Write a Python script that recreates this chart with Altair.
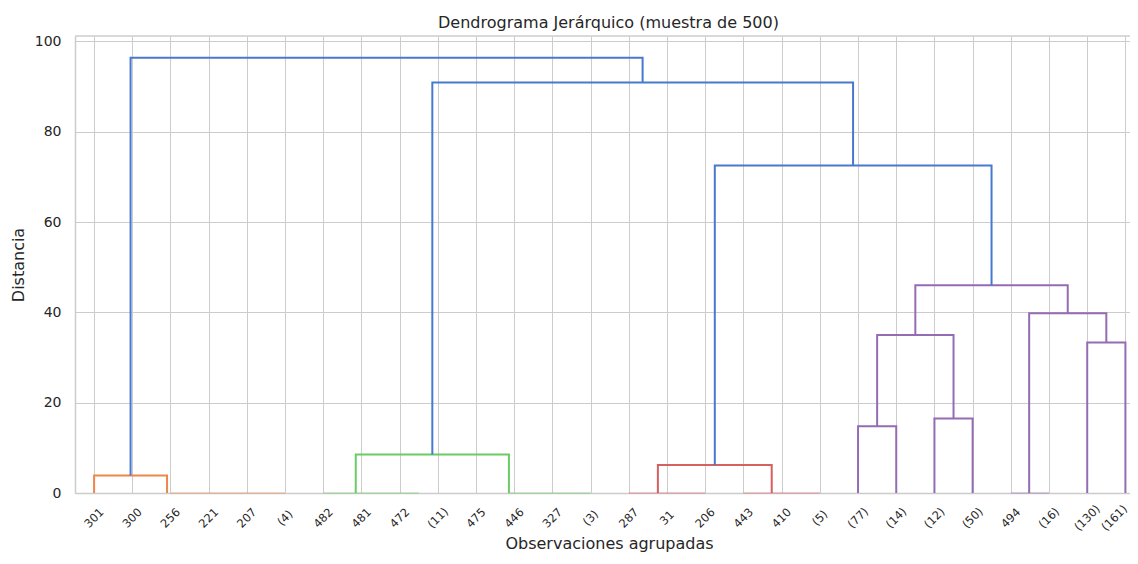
import json
import altair as alt
import pandas as pd

# ---- leaves (scipy dendrogram convention: leaf i sits at 5 + 10*i) ----
leaf_labels = ["301", "300", "256", "221", "207", "(4)", "482", "481", "472", "(11)",
               "475", "446", "327", "(3)", "287", "31", "206", "443", "410", "(5)",
               "(77)", "(14)", "(12)", "(50)", "494", "(16)", "(130)", "(161)"]
leaf_pos = [5, 15, 25, 35, 45, 55, 65, 75, 85, 95, 105, 115, 125, 135, 145,
            155, 165, 175, 185, 195, 205, 215, 225, 235, 245, 255, 265, 275]

# ---- links (left x, right x, left child height, right child height, merge height) ----
link_x_left = [5, 73.5, 152.6, 205, 225, 210, 265, 249.8, 220, 167.5, 93.55, 14.55]
link_x_right = [24.1, 113.6, 182.4, 215, 235, 230, 275, 270, 259.9, 239.95, 203.7, 148.6]
link_y_left = [0, 0, 0, 0, 0, 14.8, 0, 0, 35.0, 6.2, 8.5, 3.9]
link_y_right = [0, 0, 0, 0, 0, 16.5, 0, 33.3, 39.8, 46.0, 72.5, 90.9]
link_height = [3.9, 8.5, 6.2, 14.8, 16.5, 35.0, 33.3, 39.8, 46.0, 72.5, 90.9, 96.4]
link_cluster = ["C1", "C2", "C3", "C4", "C4", "C4", "C4", "C4", "C4", "C0", "C0", "C0"]

# ---- merges at (almost) zero distance, drawn along the baseline ----
zero_x1 = [25, 65, 113.6, 145, 175, 245]
zero_x2 = [55, 90, 135, 165, 195, 255]
zero_y = [0, 0, 0, 0, 0, 0]
zero_cluster = ["C1", "C2", "C2", "C3", "C3", "C4"]

cluster_ids = ["C0", "C1", "C2", "C3", "C4"]
cluster_colors = ["#4878d0", "#ee854a", "#6acc64", "#d65f5f", "#956cb4"]

rows = []
for i in range(len(link_height)):
    pts = [(link_x_left[i], link_y_left[i]),
           (link_x_left[i], link_height[i]),
           (link_x_right[i], link_height[i]),
           (link_x_right[i], link_y_right[i])]
    for k, (xx, yy) in enumerate(pts):
        rows.append({"link": i, "step": k, "x": xx, "y": yy, "cluster": link_cluster[i]})
links_df = pd.DataFrame(rows)

zero_df = pd.DataFrame({"x": zero_x1, "x2": zero_x2, "y": zero_y, "cluster": zero_cluster})

FONT = "DejaVu Sans"
TXT = "#262626"
GRID = "#cccccc"

xscale = alt.Scale(domain=[0, 276.2], nice=False, zero=False)
yscale = alt.Scale(domain=[0, 101.2], nice=False)
cscale = alt.Scale(domain=cluster_ids, range=cluster_colors)

label_expr = json.dumps(leaf_labels) + "[round((datum.value - 5) / 10)]"

x_axis = alt.Axis(values=leaf_pos, tickCount=60, labelExpr=label_expr, labelAngle=-45,
                  labelAlign="center", labelBaseline="middle", labelPadding=25,
                  labelOffset={"condition": {"test": "datum.value >= 270", "value": -11},
                               "value": 0},
                  labelFontSize=11.5, labelOverlap=False, labelBound=False,
                  tickSize=0, grid=True,
                  title="Observaciones agrupadas", titleFontSize=16,
                  titleX=534, titleY=55, titleBaseline="alphabetic")
y_axis = alt.Axis(values=[0, 20, 40, 60, 80, 100], labelFontSize=14, tickSize=0,
                  labelPadding=14, grid=True, title="Distancia", titleFontSize=16,
                  titlePadding=8)

lines = alt.Chart(links_df).mark_line(strokeWidth=2).encode(
    x=alt.X("x:Q", scale=xscale, axis=x_axis),
    y=alt.Y("y:Q", scale=yscale, axis=y_axis),
    detail="link:N",
    order="step:Q",
    color=alt.Color("cluster:N", scale=cscale, legend=None),
)

zeros = alt.Chart(zero_df).mark_rule(strokeWidth=2, opacity=0.3).encode(
    x=alt.X("x:Q", scale=xscale),
    x2="x2:Q",
    y=alt.Y("y:Q", scale=yscale),
    color=alt.Color("cluster:N", scale=cscale, legend=None),
)

top_border = alt.Chart(alt.Data(values=[{"a": 1}])).mark_rule(
    color=GRID, strokeWidth=1.5).encode(y=alt.value(0))

chart = alt.layer(zeros, lines, top_border).properties(
    width=1055,
    height=457,
    title=alt.TitleParams("Dendrograma Jerárquico (muestra de 500)", font=FONT,
                          fontSize=16, fontWeight="normal", color=TXT, offset=3, dx=6),
    autosize=alt.AutoSizeParams(type="none"),
    padding={"left": 67, "top": 28, "right": 0, "bottom": 59},
).configure_view(stroke=None).configure_axis(
    labelFont=FONT, titleFont=FONT, labelColor=TXT, titleColor=TXT,
    titleFontWeight="normal", gridColor=GRID, gridWidth=1,
    domainColor=GRID, domainWidth=1.5,
)

chart.save("out.html", embed_options={"renderer": "svg", "actions": False})
